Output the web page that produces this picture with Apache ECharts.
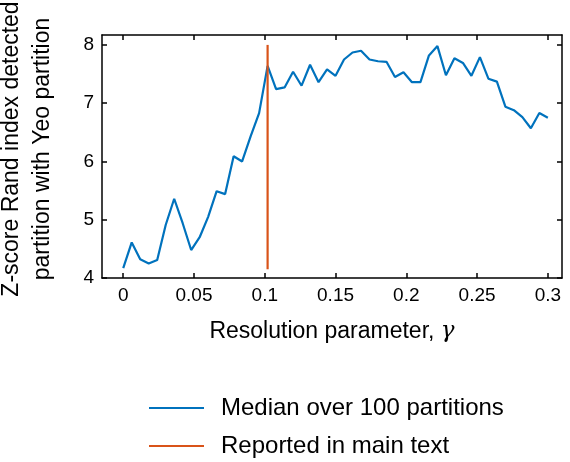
<!DOCTYPE html>
<html>
<head>
<meta charset="utf-8">
<script src="https://cdn.jsdelivr.net/npm/echarts@6/dist/echarts.min.js"></script>
<style>
  html, body { margin: 0; padding: 0; background: #fff; }
  #chart { width: 570px; height: 462px; }
</style>
</head>
<body>
<div id="chart"></div>
<script>
// resolution parameter values (gamma)
const gammaValues = [
  0, 0.006, 0.012, 0.018, 0.024, 0.03, 0.036, 0.042, 0.048, 0.054,
  0.06, 0.066, 0.072, 0.078, 0.084, 0.09, 0.096, 0.102, 0.108, 0.114,
  0.12, 0.126, 0.132, 0.138, 0.144, 0.15, 0.156, 0.162, 0.168, 0.174,
  0.18, 0.186, 0.192, 0.198, 0.204, 0.21, 0.216, 0.222, 0.228, 0.234,
  0.24, 0.246, 0.252, 0.258, 0.264, 0.27, 0.276, 0.282, 0.288, 0.294,
  0.3
];
// median z-score over 100 partitions
const medianZ = [
  4.17, 4.61, 4.32, 4.25, 4.31, 4.91, 5.36, 4.94, 4.48, 4.70,
  5.05, 5.49, 5.44, 6.09, 6.00, 6.43, 6.83, 7.64, 7.24, 7.27,
  7.54, 7.30, 7.66, 7.36, 7.58, 7.47, 7.75, 7.87, 7.90, 7.75,
  7.72, 7.71, 7.45, 7.53, 7.36, 7.36, 7.82, 7.98, 7.48, 7.77,
  7.69, 7.47, 7.79, 7.42, 7.37, 6.94, 6.88, 6.76, 6.57, 6.83,
  6.75
];
// gamma reported in main text (vertical line)
const reportedGamma = [0.102, 0.102];
const reportedZ = [4.15, 8.0];

const xTicks = [0, 0.05, 0.1, 0.15, 0.2, 0.25, 0.3];
const yTicks = [4, 5, 6, 7, 8];

const FONT = 'Liberation Sans, Arial, Helvetica, sans-serif';

const chart = echarts.init(document.getElementById('chart'));

// frame lines, never snapped to zero
const axisLine = { show: true, onZero: false, lineStyle: { color: '#000', width: 1.5 } };
const tickStyle = { color: '#000', width: 1.5 };

// one legend box per row, stacked
function legendRow(name, top) {
  return {
    orient: 'vertical',
    left: 144,
    top: top,
    icon: 'rect',
    itemWidth: 55,
    itemHeight: 2,
    textStyle: {
      color: '#000',
      fontFamily: FONT,
      fontSize: 24,
      padding: [0, 0, 0, 12]
    },
    data: [name]
  };
}

chart.setOption({
  animation: false,
  grid: {
    left: 102,
    right: 8,
    top: 35,
    bottom: 184,
    containLabel: false
  },
  legend: [
    legendRow('Median over 100 partitions', 391),
    legendRow('Reported in main text', 429)
  ],
  xAxis: [{
    type: 'value',
    position: 'bottom',
    min: -0.015,
    max: 0.31,
    name: 'Resolution parameter, {g|γ}',
    nameLocation: 'middle',
    nameGap: 42,
    nameTextStyle: {
      color: '#000',
      fontFamily: FONT,
      fontSize: 23,
      rich: {
        g: { fontFamily: 'DejaVu Serif, serif', fontStyle: 'italic', fontSize: 23, color: '#000' }
      }
    },
    axisLine: axisLine,
    axisTick: { show: true, inside: true, length: 5, lineStyle: tickStyle, customValues: xTicks },
    axisLabel: {
      color: '#000',
      fontFamily: FONT,
      fontSize: 19,
      margin: 8,
      customValues: xTicks,
      formatter: v => String(v)
    },
    splitLine: { show: false }
  }, {
    type: 'value',
    position: 'top',
    min: -0.015,
    max: 0.31,
    axisLine: axisLine,
    axisTick: { show: true, inside: true, length: 5, lineStyle: tickStyle, customValues: xTicks },
    axisLabel: { show: false },
    splitLine: { show: false }
  }],
  yAxis: [{
    type: 'value',
    position: 'left',
    min: 4,
    max: 8.17,
    axisLine: axisLine,
    axisTick: { show: true, inside: true, length: 5, lineStyle: tickStyle, customValues: yTicks },
    axisLabel: {
      color: '#000',
      fontFamily: FONT,
      fontSize: 19,
      margin: 8,
      customValues: yTicks
    },
    splitLine: { show: false }
  }, {
    type: 'value',
    position: 'right',
    min: 4,
    max: 8.17,
    axisLine: axisLine,
    axisTick: { show: true, inside: true, length: 5, lineStyle: tickStyle, customValues: yTicks },
    axisLabel: { show: false },
    splitLine: { show: false }
  }],
  graphic: [{
    type: 'text',
    x: 27,
    y: 149,
    rotation: Math.PI / 2,
    style: {
      text: 'Z-score Rand index detected\npartition with Yeo partition',
      fill: '#000',
      font: '23px ' + FONT,
      align: 'center',
      verticalAlign: 'middle',
      lineHeight: 31
    }
  }],
  series: [{
    name: 'Median over 100 partitions',
    type: 'line',
    xAxisIndex: 0,
    yAxisIndex: 0,
    showSymbol: false,
    symbol: 'none',
    lineStyle: { color: '#0072BD', width: 2.2 },
    itemStyle: { color: '#0072BD' },
    data: gammaValues.map((g, i) => [g, medianZ[i]])
  }, {
    name: 'Reported in main text',
    type: 'line',
    xAxisIndex: 0,
    yAxisIndex: 0,
    showSymbol: false,
    symbol: 'none',
    lineStyle: { color: '#D95319', width: 2.2 },
    itemStyle: { color: '#D95319' },
    data: reportedGamma.map((g, i) => [g, reportedZ[i]])
  }]
});
</script>
</body>
</html>
